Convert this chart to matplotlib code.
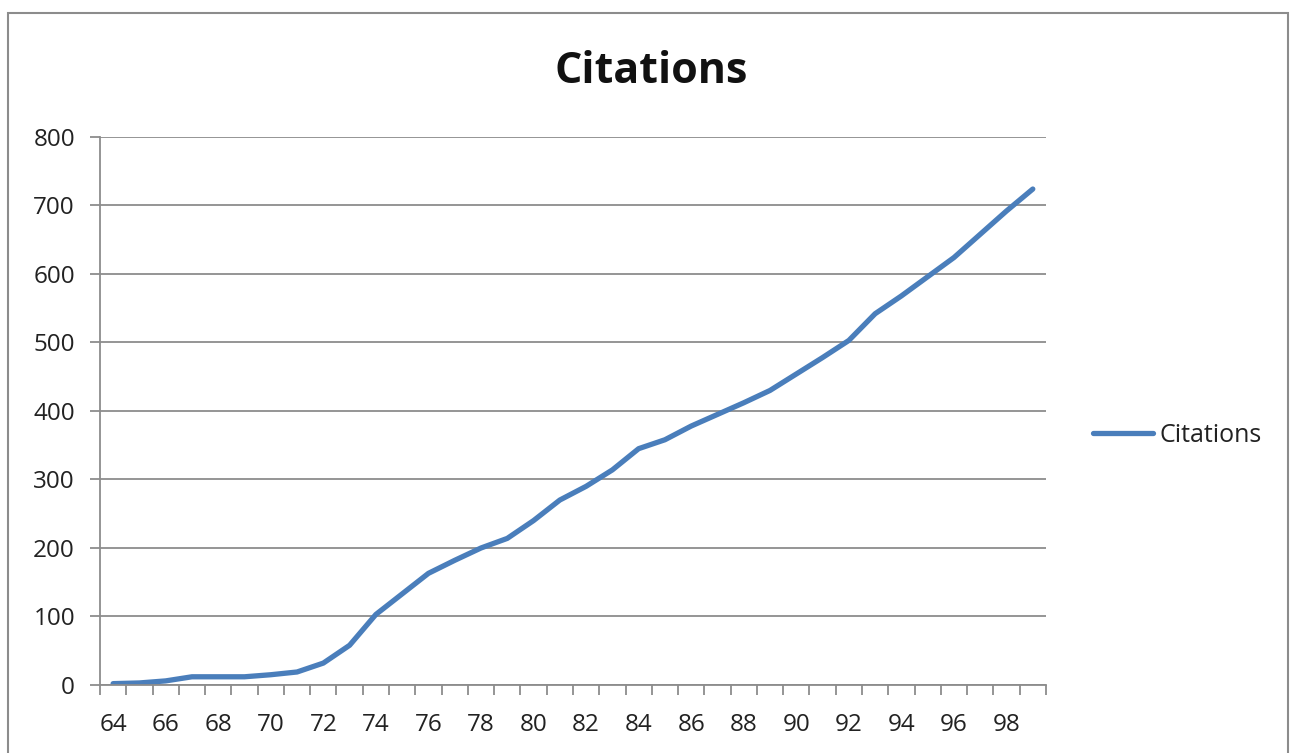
import matplotlib.pyplot as plt
from matplotlib.patches import Rectangle

# --- Data ---
years = list(range(64, 100))
citations = [2, 3, 6, 12, 12, 12, 15, 19, 32, 58,
             103, 133, 163, 182, 200, 214, 240, 270, 290, 314,
             345, 358, 378, 395, 412, 430, 454, 478, 503, 542,
             568, 596, 624, 658, 692, 724]
y_ticks = [0, 100, 200, 300, 400, 500, 600, 700, 800]
x_labels = years[::2]

BLUE = '#4A7EBB'
GRID = '#8c8c8c'
FONT = 'Open Sans'

fig = plt.figure(figsize=(12.9, 7.53), dpi=100)
ax = fig.add_axes([0.0775, 0.0903, 0.7333, 0.7278])

# outer chart frame
fig.patches.append(Rectangle((8 / 1290, -0.05), 1280 / 1290, 1.05 - 13 / 753,
                             transform=fig.transFigure, fill=False,
                             edgecolor='#8c8c8c', linewidth=1.5))

ax.plot(years, citations, color=BLUE, linewidth=3.8, solid_capstyle='round',
        label='Citations')

ax.set_xlim(63.5, 99.5)
ax.set_ylim(0, 800)
ax.set_yticks(y_ticks)
ax.set_xticks(x_labels)
ax.set_xticks([y - 0.5 for y in years] + [99.5], minor=True)

ax.grid(axis='y', color=GRID, linewidth=1.3)
ax.set_axisbelow(True)
for s in ['top', 'right']:
    ax.spines[s].set_visible(False)
for s in ['left', 'bottom']:
    ax.spines[s].set_color(GRID)
    ax.spines[s].set_linewidth(1.3)

ax.tick_params(axis='y', length=7, width=1.3, color=GRID, pad=11,
               labelsize=17.5, labelcolor='#222222')
ax.tick_params(axis='x', which='major', length=0, pad=20,
               labelsize=17.5, labelcolor='#222222')
ax.tick_params(axis='x', which='minor', length=7, width=1.3, color=GRID)
for lab in ax.get_xticklabels() + ax.get_yticklabels():
    lab.set_family(FONT)

fig.text(0.505, 1 - 83 / 753, 'Citations', ha='center', va='baseline',
         fontsize=31, fontweight='bold', family=FONT, color='#111111')

leg = ax.legend(loc='center left', bbox_to_anchor=(1.026, 0.455), frameon=False,
                handlelength=2.4, handletextpad=0.25,
                prop={'family': FONT, 'size': 18})
for t in leg.get_texts():
    t.set_color('#222222')

fig.savefig('out.png', dpi=100)
